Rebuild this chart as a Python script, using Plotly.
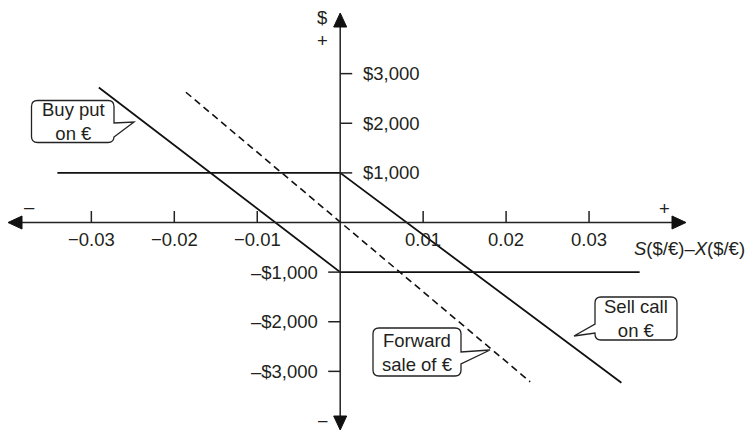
import plotly.graph_objects as go

# ---------------- data ----------------
x_ticks = [-0.03, -0.02, -0.01, 0.01, 0.02, 0.03]
x_tick_labels = ["\u22120.03", "\u22120.02", "\u22120.01", "0.01", "0.02", "0.03"]
y_ticks_pos = [3000, 2000, 1000]
y_tick_labels_pos = ["$3,000", "$2,000", "$1,000"]
y_ticks_neg = [-1000, -2000, -3000]
y_tick_labels_neg = ["\u2013$1,000", "\u2013$2,000", "\u2013$3,000"]

put_x = [-0.0291, 0.0, 0.0361]
put_y = [2720, -1000, -1000]
call_x = [-0.0341, 0.0, 0.0339]
call_y = [1000, 1000, -3230]
fwd_x = [-0.0186, 0.0229]
fwd_y = [2625, -3210]

# ---------------- geometry helpers (pixel -> data) ----------------
W, H = 756, 431
X0PX, XS = 340.2, 8295.0
Y0PX, YS = 222.5, 0.04962


def dx(px):
    return (px - X0PX) / XS


def dy(py):
    return (Y0PX - py) / YS


def px_of(x):
    return X0PX + x * XS


def py_of(y):
    return Y0PX - y * YS


FONT = "Liberation Sans, Arial, Helvetica, sans-serif"
TXT = "#231f20"
FS = 18.5

fig = go.Figure()

line_style = dict(color="#111111", width=1.8)
fig.add_trace(go.Scatter(x=put_x, y=put_y, mode="lines", line=line_style,
                         hoverinfo="skip", showlegend=False))
fig.add_trace(go.Scatter(x=call_x, y=call_y, mode="lines", line=line_style,
                         hoverinfo="skip", showlegend=False))
fig.add_trace(go.Scatter(x=fwd_x, y=fwd_y, mode="lines",
                         line=dict(color="#111111", width=1.6, dash="7px,4.5px"),
                         hoverinfo="skip", showlegend=False))

shapes = []
AX = dict(color="#222222", width=1.5)
# axes lines
shapes.append(dict(type="line", xref="x", yref="y", x0=dx(20), x1=dx(674), y0=0, y1=0, line=AX))
shapes.append(dict(type="line", xref="x", yref="y", x0=0, x1=0, y0=dy(25), y1=dy(420), line=AX))


def tri(points):
    p = "M " + " L ".join(f"{dx(a)},{dy(b)}" for a, b in points) + " Z"
    return dict(type="path", xref="x", yref="y", path=p,
                fillcolor="#111111", line=dict(color="#111111", width=1))


ax0 = px_of(0)
ay0 = py_of(0)
shapes.append(tri([(ax0, 13), (ax0 - 6.5, 27), (ax0 + 6.5, 27)]))
shapes.append(tri([(ax0, 430), (ax0 - 6.5, 416), (ax0 + 6.5, 416)]))
shapes.append(tri([(8, ay0), (22, ay0 - 6.5), (22, ay0 + 6.5)]))
shapes.append(tri([(686, ay0), (672, ay0 - 6.5), (672, ay0 + 6.5)]))

# ticks
for t in x_ticks:
    shapes.append(dict(type="line", xref="x", yref="y", x0=t, x1=t, y0=0, y1=dy(ay0 - 11.5), line=AX))
for t in y_ticks_pos:
    shapes.append(dict(type="line", xref="x", yref="y", x0=0, x1=dx(ax0 + 12), y0=t, y1=t, line=AX))
for t in y_ticks_neg:
    shapes.append(dict(type="line", xref="x", yref="y", x0=dx(ax0 - 12), x1=0, y0=t, y1=t, line=AX))


# callouts
def callout(l, t, r, b, side, p1, p2, tip, rad=6):
    pts = []
    pts.append(f"M {dx(l + rad)},{dy(t)}")
    pts.append(f"L {dx(r - rad)},{dy(t)}")
    pts.append(f"Q {dx(r)},{dy(t)} {dx(r)},{dy(t + rad)}")
    if side == "right":
        pts.append(f"L {dx(r)},{dy(p1)}")
        pts.append(f"L {dx(tip[0])},{dy(tip[1])}")
        pts.append(f"L {dx(r)},{dy(p2)}")
    pts.append(f"L {dx(r)},{dy(b - rad)}")
    pts.append(f"Q {dx(r)},{dy(b)} {dx(r - rad)},{dy(b)}")
    pts.append(f"L {dx(l + rad)},{dy(b)}")
    pts.append(f"Q {dx(l)},{dy(b)} {dx(l)},{dy(b - rad)}")
    if side == "left":
        pts.append(f"L {dx(l)},{dy(p2)}")
        pts.append(f"L {dx(tip[0])},{dy(tip[1])}")
        pts.append(f"L {dx(l)},{dy(p1)}")
    pts.append(f"L {dx(l)},{dy(t + rad)}")
    pts.append(f"Q {dx(l)},{dy(t)} {dx(l + rad)},{dy(t)}")
    pts.append("Z")
    return dict(type="path", xref="x", yref="y", path=" ".join(pts),
                fillcolor="white", line=dict(color="#222222", width=1.3))


shapes.append(callout(31.5, 100.5, 114, 142.5, "right", 123, 137, (134, 122)))
shapes.append(callout(595, 297, 677, 340, "left", 324, 333, (574, 336)))
shapes.append(callout(373, 328, 461, 376, "right", 352, 364, (490, 350)))

annotations = []


def txt(px, py, text, xanchor="center", yanchor="middle", size=FS, pad=1):
    annotations.append(dict(x=dx(px), y=dy(py), xref="x", yref="y", text=text,
                            showarrow=False, xanchor=xanchor, yanchor=yanchor,
                            borderpad=pad,
                            font=dict(family=FONT, size=size, color=TXT)))


for t, lab in zip(x_ticks, x_tick_labels):
    txt(px_of(t), 239, lab)
for t, lab in zip(y_ticks_pos, y_tick_labels_pos):
    txt(361, py_of(t), lab, xanchor="left")
for t, lab in zip(y_ticks_neg, y_tick_labels_neg):
    txt(320, py_of(t), lab, xanchor="right")

txt(322, 17, "$")
txt(322, 40, "+")
txt(29, 206, "\u2013")
txt(664, 208, "+")
txt(323, 430.5, "\u2013", yanchor="bottom", size=17, pad=0)
txt(632, 248, "<i>S</i>($/\u20ac)\u2013<i>X</i>($/\u20ac)", xanchor="left")

txt(73, 121.5, "Buy put<br>on \u20ac")
txt(636, 318.5, "Sell call<br>on \u20ac")
txt(417, 352, "Forward<br>sale of \u20ac")

fig.update_layout(
    width=W, height=H, autosize=False,
    margin=dict(l=0, r=0, t=0, b=0),
    paper_bgcolor="white", plot_bgcolor="white",
    xaxis=dict(range=[dx(0), dx(W)], visible=False, fixedrange=True),
    yaxis=dict(range=[dy(H), dy(0)], visible=False, fixedrange=True),
    shapes=shapes, annotations=annotations, showlegend=False,
)

fig.write_html(
    "out.html",
    config={"displayModeBar": False},
    post_script="document.body.style.margin='0';document.body.style.padding='0';"
                "document.body.style.overflow='hidden';",
)
